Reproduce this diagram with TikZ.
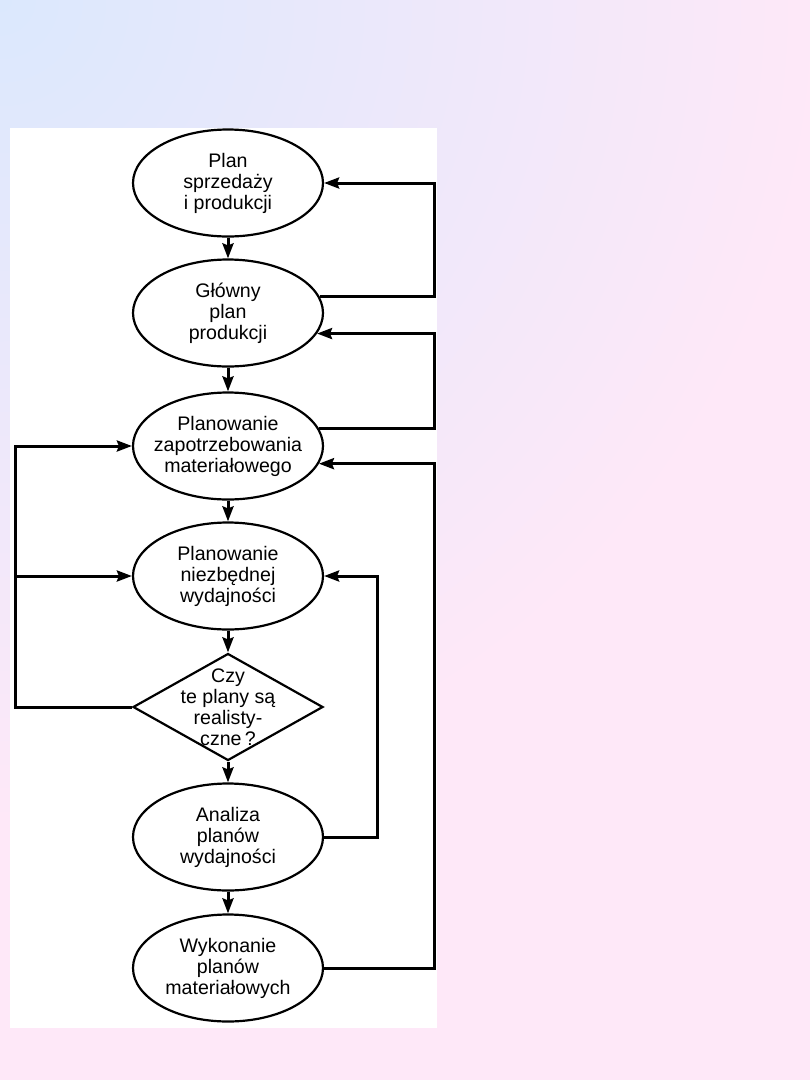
\documentclass[tikz,border=0pt]{standalone}
\usepackage{fontspec}
\setmainfont{Liberation Sans}
\usetikzlibrary{shapes.geometric,arrows.meta}
\definecolor{bgblue}{RGB}{219,232,253}
\definecolor{bgpink}{RGB}{254,232,248}
\pgfdeclareradialshading{bgshade}{\pgfpointorigin}{color(0bp)=(bgblue); color(820bp)=(bgpink); color(1500bp)=(bgpink)}
\begin{document}
\begin{tikzpicture}[x=1pt,y=-1pt,
  ell/.style={draw=black,line width=2.2pt,ellipse,minimum width=190pt,minimum height=107pt,
    inner xsep=-30pt,inner ysep=0pt,align=center,font=\fontsize{19.6pt}{21pt}\selectfont},
  dia/.style={draw=black,line width=2.2pt,diamond,minimum width=190pt,minimum height=107pt,inner sep=0pt},
  txt/.style={align=center,font=\fontsize{19.6pt}{21pt}\selectfont,inner sep=0pt},
  conn/.style={line width=3pt,-{Stealth[length=15pt,width=11pt,inset=2pt]}}]
\useasboundingbox (0,0) rectangle (810,1080);
\begin{scope}
  \clip (0,0) rectangle (810,1080);
  \node[inner sep=0pt,outer sep=0pt] (bg) at (0,0) {\pgfuseshading{bgshade}};
\end{scope}
\fill[white] (10,128) rectangle (437,1028);

\node[ell] (E1) at (228,183) {Plan\\sprzedaży\\i produkcji};
\node[ell] (E2) at (228,313) {Główny\\plan\\produkcji};
\node[ell] (E3) at (228,446) {Planowanie\\zapotrzebowania\\materiałowego};
\node[ell] (E4) at (228,576) {Planowanie\\niezbędnej\\wydajności};
\node[dia] (D) at (228,707) {};
\node[txt] (Dt) at (228,707) {Czy\\te plany są\\realisty-\\czne\,?};
\node[ell] (E6) at (228,837) {Analiza\\planów\\wydajności};
\node[ell] (E7) at (228,968) {Wykonanie\\planów\\materiałowych};

\coordinate (Rx) at (434,0);
\coordinate (Qx) at (377,0);
\coordinate (Lx) at (15,0);

\draw[conn] (E1.south) -- (E2.north);
\draw[conn] (E2.south) -- (E3.north);
\draw[conn] (E3.south) -- (E4.north);
\draw[conn] (E4.south) -- (D.north);
\draw[conn] (D.south) -- (E6.north);
\draw[conn] (E6.south) -- (E7.north);

\draw[conn] (E2.10) -| (Rx |- E1.east) -- (E1.east);
\draw[conn] (E3.11) -| (Rx |- E2.-13) -- (E2.-13);
\draw[conn] (E7.east) -| (Rx |- E3.-11) -- (E3.-11);
\draw[conn] (E6.east) -| (Qx |- E4.east) -- (E4.east);

\draw[conn] (D.west) -| (Lx |- E3.west) -- (E3.west);
\draw[conn] (Lx |- E4.west) -- (E4.west);
\end{tikzpicture}
\end{document}
